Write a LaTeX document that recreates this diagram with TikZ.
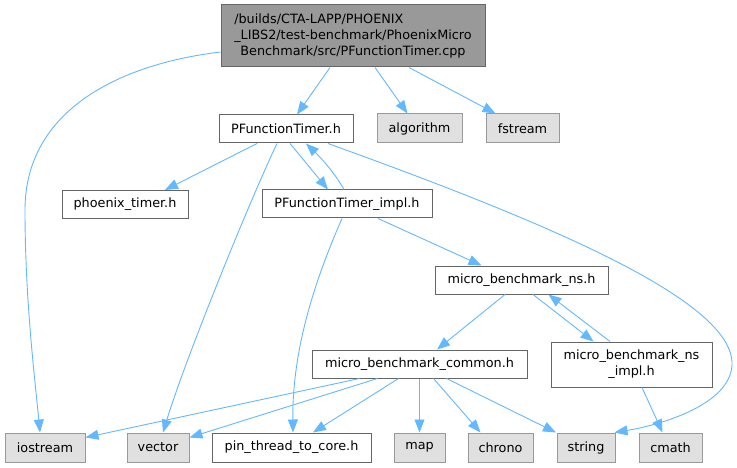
\documentclass[tikz,border=0pt]{standalone}
\usepackage{fontspec}
\setmainfont{DejaVu Sans}
\usetikzlibrary{arrows.meta}
\definecolor{edgec}{HTML}{63B8FF}
\definecolor{grayfill}{HTML}{E0E0E0}
\definecolor{grayline}{HTML}{999999}
\definecolor{darkline}{HTML}{666666}
\definecolor{rootfill}{HTML}{999999}
\tikzset{
  box/.style={draw=darkline, fill=white, line width=1pt, inner sep=0pt, font=\fontsize{12.8}{17}\selectfont, text=black},
  sysbox/.style={box, draw=grayline, fill=grayfill},
  rootbox/.style={box, draw=darkline, fill=rootfill},
  dep/.style={draw=edgec, line width=0.9pt, -{Triangle[length=13pt,width=10pt]}},
}
\begin{document}
\begin{tikzpicture}[x=1pt,y=-1pt]
\useasboundingbox (0,0) rectangle (737,468);
\node[rootbox, minimum width=264pt, minimum height=62pt] (root) at (353,36)
 {\begin{tabular}{@{}c@{}}\multicolumn{1}{@{}l@{}}{/builds/CTA-LAPP/PHOENIX}\\[-1pt] \_LIBS2/test-benchmark/PhoenixMicro\\[-1pt] Benchmark/src/PFunctionTimer.cpp\end{tabular}};
\node[box, minimum width=134pt, minimum height=28pt] (pft) at (286,129) {PFunctionTimer.h};
\node[sysbox, minimum width=85pt, minimum height=29pt] (alg) at (419.5,128.5) {algorithm};
\node[sysbox, minimum width=73pt, minimum height=29pt] (fst) at (522.5,128.5) {fstream};
\node[box, minimum width=126pt, minimum height=28pt] (phx) at (125,204.5) {phoenix\_timer.h};
\node[box, minimum width=170pt, minimum height=28pt] (impl) at (347,204) {PFunctionTimer\_impl.h};
\node[box, minimum width=173pt, minimum height=28pt] (ns) at (521.5,280) {micro\_benchmark\_ns.h};
\node[box, minimum width=215pt, minimum height=28pt] (common) at (419.5,364) {micro\_benchmark\_common.h};
\node[box, minimum width=161pt, minimum height=45pt, align=center] (nsimpl) at (631.5,364.5) {micro\_benchmark\_ns\\[-1pt]\_impl.h};
\node[sysbox, minimum width=80pt, minimum height=29pt] (ios) at (45,447.5) {iostream};
\node[sysbox, minimum width=62pt, minimum height=29pt] (vec) at (158,447.5) {vector};
\node[box, minimum width=159pt, minimum height=29pt] (pin) at (291.5,447.5) {pin\_thread\_to\_core.h};
\node[sysbox, minimum width=51pt, minimum height=29pt] (map) at (419.5,447.5) {map};
\node[sysbox, minimum width=65pt, minimum height=29pt] (chrono) at (500.5,447.5) {chrono};
\node[sysbox, minimum width=58pt, minimum height=29pt] (str) at (586,447.5) {string};
\node[sysbox, minimum width=63pt, minimum height=29pt] (cmath) at (670.5,447.5) {cmath};

\draw[dep] ([yshift=-16pt]root.west) .. controls (120,64) and (25,110) .. (25,210) .. controls (25,300) and (35,380) .. ([xshift=-5pt]ios.north);
\draw[dep] ([xshift=-23pt]root.south) -- ([xshift=11pt]pft.north);
\draw[dep] ([xshift=22pt]root.south) -- ([xshift=-12pt]alg.north);
\draw[dep] ([xshift=56pt]root.south) -- ([xshift=-27pt]fst.north);
\draw[dep] ([xshift=-29pt]pft.south) -- ([xshift=40pt]phx.north);
\draw[dep] ([xshift=-9pt]pft.south) .. controls (250,200) and (185,360) .. ([xshift=5pt]vec.north);
\draw[dep] ([xshift=4pt]pft.south) -- ([xshift=-19pt]impl.north);
\draw[dep] ([xshift=-3pt]impl.north) .. controls (333,170) and (318,155) .. ([xshift=20pt]pft.south);
\draw[dep] ([xshift=42pt]pft.south) .. controls (540,220) and (735,300) .. (732,365) .. controls (730,405) and (660,425) .. ([xshift=-1pt]str.north east);
\draw[dep] ([xshift=31pt]impl.south) -- ([xshift=-40pt]ns.north);
\draw[dep] ([xshift=-5pt]impl.south) .. controls (315,280) and (292,350) .. ([xshift=1.5pt]pin.north);
\draw[dep] ([xshift=-16.5pt]ns.south) -- ([xshift=17.5pt]common.north);
\draw[dep] ([xshift=11.5pt]ns.south) -- ([xshift=-38pt]nsimpl.north);
\draw[dep] ([xshift=-21.5pt]nsimpl.north) -- ([xshift=27pt]ns.south);
\draw[dep] ([xshift=10.5pt]nsimpl.south) -- ([xshift=-8pt]cmath.north);
\draw[dep] ([xshift=-60pt]common.south) -- ([yshift=10pt]ios.east);
\draw[dep] ([xshift=-42pt]common.south) -- ([yshift=10pt]vec.east);
\draw[dep] ([xshift=-21pt]common.south) -- ([xshift=21.5pt]pin.north);
\draw[dep] (common.south) -- (map.north);
\draw[dep] ([xshift=14pt]common.south) -- ([xshift=-20pt]chrono.north);
\draw[dep] ([xshift=27pt]common.south) -- ([xshift=-30pt]str.north);
\end{tikzpicture}
\end{document}
